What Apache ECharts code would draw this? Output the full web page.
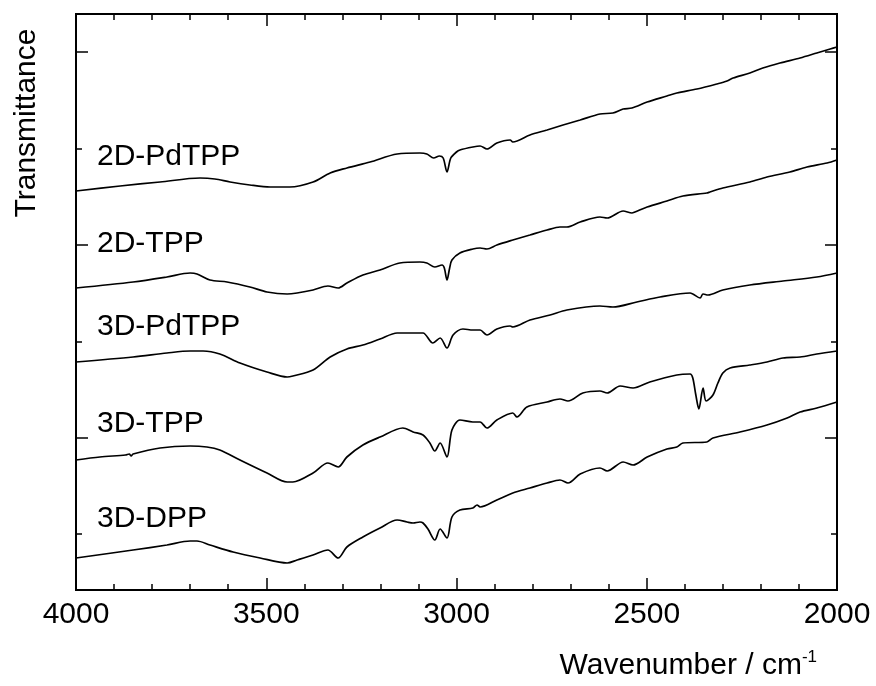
<!DOCTYPE html>
<html>
<head>
<meta charset="utf-8">
<script src="https://cdn.jsdelivr.net/npm/echarts@6/dist/echarts.min.js"></script>
<style>
  html, body { margin: 0; padding: 0; background: #fff; }
  #chart { width: 876px; height: 686px; }
</style>
</head>
<body>
<div id="chart"></div>
<script>
// wavenumber (cm-1), transmittance (arb. units, curves offset)
const pd2D = [[4000,399],[3884,404],[3779,408],[3674,412],[3635,411],[3595,408],[3543,405],[3490,403],[3438,403],[3377,408],[3332,417],[3288,422],[3227,428],[3156,436],[3096,437],[3078,436],[3060,432],[3045,434],[3035,432],[3025,418],[3015,432],[3000,438],[2991,440],[2957,443],[2938,444],[2920,441],[2894,447],[2859,450],[2852,448],[2807,455],[2762,460],[2720,465],[2675,470],[2623,476],[2589,477],[2562,481],[2539,482],[2499,488],[2447,494],[2421,497],[2368,501],[2316,506],[2289,509],[2273,512],[2229,517],[2195,522],[2150,527],[2097,532],[2053,537],[2018,541],[2000,543]];
const tpp2D = [[4000,302],[3850,308],[3761,313],[3700,317],[3682,316],[3648,310],[3603,308],[3543,303],[3498,298],[3445,296],[3419,297],[3377,300],[3338,304],[3311,302],[3288,307],[3246,315],[3201,320],[3149,327],[3096,328],[3078,327],[3057,323],[3038,325],[3032,322],[3025,310],[3018,322],[3012,330],[2991,337],[2957,341],[2938,342],[2920,341],[2894,345],[2852,350],[2807,355],[2762,360],[2728,363],[2710,363],[2675,368],[2623,373],[2604,372],[2562,379],[2539,377],[2531,378],[2499,383],[2447,389],[2405,394],[2342,397],[2334,398],[2300,402],[2229,408],[2184,413],[2124,418],[2079,423],[2026,427],[2000,430]];
const pd3D = [[4000,228],[3850,233],[3761,237],[3700,239],[3666,239],[3622,236],[3569,227],[3498,218],[3445,213],[3430,214],[3377,220],[3332,233],[3288,241],[3246,245],[3201,251],[3156,257],[3114,257],[3088,257],[3062,247],[3043,252],[3025,242],[3009,255],[2983,261],[2957,260],[2938,260],[2920,255],[2894,261],[2859,264],[2852,263],[2807,270],[2754,275],[2710,280],[2623,284],[2589,283],[2526,288],[2465,293],[2386,297],[2360,292],[2352,296],[2339,295],[2300,300],[2229,305],[2142,309],[2053,313],[2000,317]];
const tpp3D = [[4000,130],[3937,133],[3870,135],[3860,136],[3855,134],[3850,136],[3779,142],[3700,144],[3656,143],[3622,140],[3569,130],[3498,117],[3445,108],[3430,108],[3377,117],[3338,127],[3311,123],[3288,133],[3246,145],[3201,153],[3141,162],[3114,158],[3088,155],[3070,147],[3057,139],[3043,147],[3025,133],[3012,160],[2991,170],[2957,168],[2938,168],[2920,162],[2894,170],[2852,177],[2841,173],[2815,183],[2762,188],[2728,191],[2707,189],[2668,197],[2623,199],[2604,197],[2570,204],[2536,202],[2492,208],[2421,215],[2386,216],[2379,212],[2371,195],[2363,181],[2352,202],[2344,189],[2326,195],[2313,207],[2300,217],[2281,222],[2229,225],[2184,228],[2142,232],[2097,233],[2053,236],[2000,239]];
const dpp3D = [[4000,32],[3850,40],[3761,45],[3700,49],[3682,49],[3648,45],[3587,38],[3516,32],[3445,27],[3419,30],[3377,35],[3338,40],[3311,32],[3288,43],[3246,53],[3201,62],[3156,70],[3130,68],[3114,67],[3096,68],[3088,67],[3075,61],[3057,50],[3043,61],[3025,52],[3012,73],[2991,80],[2957,82],[2946,85],[2938,83],[2894,90],[2852,97],[2807,102],[2762,107],[2728,110],[2707,107],[2675,116],[2623,122],[2604,119],[2562,128],[2536,125],[2499,133],[2447,141],[2421,143],[2405,147],[2342,148],[2326,152],[2255,158],[2184,165],[2131,172],[2097,178],[2053,182],[2000,188]];

const seriesNames = ['2D-PdTPP', '2D-TPP', '3D-PdTPP', '3D-TPP', '3D-DPP'];
const seriesData = [pd2D, tpp2D, pd3D, tpp3D, dpp3D];
const xTickLabels = ['4000', '3500', '3000', '2500', '2000'];
const labelY = [158, 245, 328, 425, 520];

const FONT = '"Liberation Sans", Arial, sans-serif';
const chart = echarts.init(document.getElementById('chart'));

const tickStyle = { color: '#000', width: 1.5 };

// value x axes carry the ticks; their own labels are laid out but transparent
function tickedX(pos) {
  return {
    type: 'value', gridIndex: 0, position: pos,
    min: 2000, max: 4000, interval: 500, inverse: true,
    axisLine: { show: true, onZeroAxisIndex: pos === 'top' ? 1 : 0, lineStyle: { color: '#000', width: 2 } },
    axisTick: { show: true, inside: true, length: 12, lineStyle: tickStyle },
    minorTick: { show: true, splitNumber: 5, length: 6, lineStyle: tickStyle },
    axisLabel: { show: true, color: 'rgba(0,0,0,0)', fontSize: 30, fontFamily: FONT, margin: 10 },
    splitLine: { show: false }
  }
}
function frameY(pos, min, max) {
  return {
    type: 'value', gridIndex: 0, position: pos, min: min, max: max,
    axisLine: { show: true, lineStyle: { color: '#000', width: 2 } },
    axisTick: { show: false }, axisLabel: { show: false }, splitLine: { show: false }
  }
}
function tickY(grid, pos, len) {
  return {
    type: 'value', gridIndex: grid, position: pos, min: 0, max: 2, interval: 1,
    axisLine: { show: false },
    axisTick: { show: true, inside: true, length: len, lineStyle: tickStyle },
    axisLabel: { show: false }, splitLine: { show: false }
  }
}
function hidden(grid) {
  return { type: 'value', gridIndex: grid, min: 0, max: 1, show: false }
}
const g = (top, bottom) => ({ left: 76, right: 39, top: top, bottom: bottom, containLabel: false, outerBoundsMode: 'none' });

let option = {
  animation: false,
  backgroundColor: '#fff',
  grid: [
    Object.assign(g(14, 96), { show: true, borderColor: '#000', borderWidth: 2, backgroundColor: 'transparent' }),
    g(52, 248),          // y major ticks
    g(149, 152),         // y minor ticks
    g(14, 96)            // x tick labels
  ],
  xAxis: [
    tickedX('bottom'), tickedX('top'),
    hidden(1), hidden(2),
    {
      type: 'category', gridIndex: 3, position: 'bottom', data: xTickLabels, boundaryGap: false,
      axisLine: { show: false }, axisTick: { show: false }, splitLine: { show: false },
      axisLabel: { show: true, interval: 0, color: '#000', fontSize: 30, fontFamily: FONT, margin: 10 }
    }
  ],
  yAxis: [
    frameY('left', 0, 576), frameY('right', -576, 0),
    tickY(1, 'left', 12), tickY(1, 'right', 12),
    tickY(2, 'left', 6), tickY(2, 'right', 6),
    hidden(3)
  ],
  series: seriesData.map((d, i) => ({
    name: seriesNames[i],
    type: 'line',
    xAxisIndex: 0, yAxisIndex: 0,
    data: d,
    showSymbol: false,
    smooth: 0.3,
    lineStyle: { color: '#000', width: 1.7 }
  })),
  graphic: [
    ...seriesNames.map((n, i) => ({
      type: 'text', left: 97, top: labelY[i] - 16,
      style: { text: n, fill: '#000', font: '30px ' + FONT }
    })),
    {
      type: 'text', x: 27, y: 123, rotation: Math.PI / 2,
      style: { text: 'Transmittance', fill: '#000', font: '30px ' + FONT, align: 'center', verticalAlign: 'middle' }
    },
    {
      type: 'text', x: 817, y: 666,
      style: {
        text: '{a|Wavenumber / cm}{s|-1}', align: 'right', verticalAlign: 'middle',
        rich: {
          a: { fontSize: 30, fontFamily: FONT, fill: '#000', color: '#000' },
          s: { fontSize: 17, fontFamily: FONT, fill: '#000', color: '#000', verticalAlign: 'top', padding: [0, 0, 18, 0] }
        }
      }
    }
  ]
};
chart.setOption(option);
</script>
</body>
</html>
